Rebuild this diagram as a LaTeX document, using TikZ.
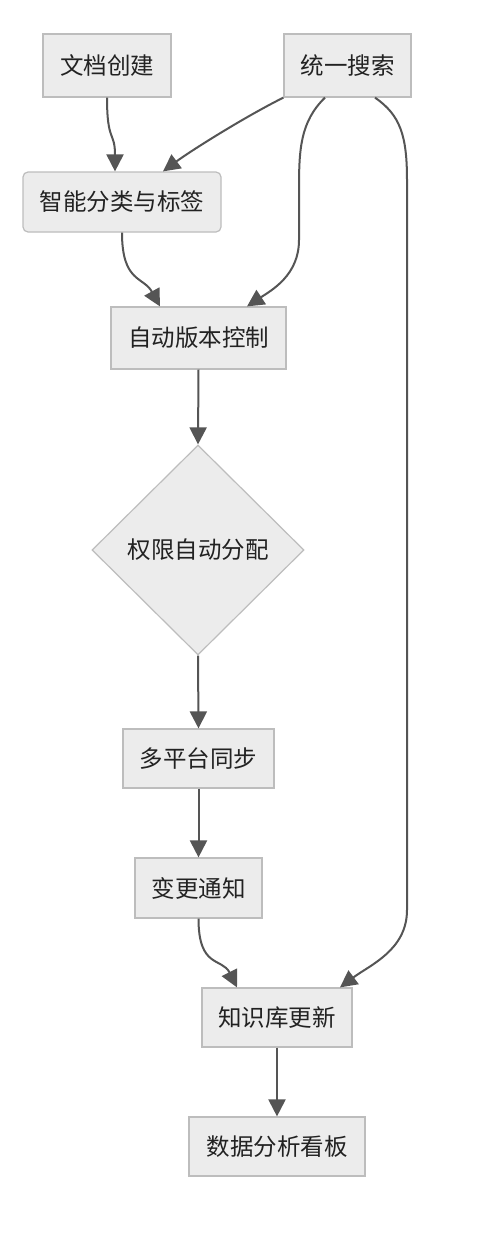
\documentclass[tikz,border=0pt]{standalone}
\usepackage{fontspec}
\setmainfont{Noto Sans CJK SC}
\usetikzlibrary{shapes.geometric,arrows.meta,calc}
\definecolor{boxfill}{HTML}{ECECEC}
\definecolor{boxline}{HTML}{BDBDBD}
\definecolor{linec}{HTML}{555555}
\definecolor{textc}{HTML}{222222}
\begin{document}
\begin{tikzpicture}[x=1pt,y=1pt,
  box/.style={draw=boxline, fill=boxfill, line width=1.2pt, inner sep=0pt,
    font=\fontsize{23.5}{28}\selectfont, text=textc},
  conn/.style={draw=linec, line width=2pt, -{Triangle[length=17pt,width=17pt]}}]
\fill[white] (0,0) rectangle (478,-1250);
\useasboundingbox (0,0) rectangle (478,-1250);

\node[box, minimum width=128pt, minimum height=63pt] (dc) at (107,-65.5) {文档创建};
\node[box, minimum width=127pt, minimum height=63pt] (ss) at (347.5,-65.5) {统一搜索};
\node[box, rounded corners=5pt, minimum width=198pt, minimum height=60pt] (zn) at (122,-202) {智能分类与标签};
\node[box, minimum width=175pt, minimum height=62pt] (bb) at (198.5,-338) {自动版本控制};
\node[box, diamond, minimum width=212pt, minimum height=210pt] (qx) at (198,-550) {权限自动分配};
\node[box, minimum width=151pt, minimum height=59pt] (tb) at (198.5,-758.5) {多平台同步};
\node[box, minimum width=127pt, minimum height=60pt] (tz) at (198.5,-888) {变更通知};
\node[box, minimum width=150pt, minimum height=59pt] (zs) at (277,-1017.5) {知识库更新};
\node[box, minimum width=176pt, minimum height=59pt] (sj) at (277,-1146.5) {数据分析看板};

% edges
\draw[conn] (dc.south) .. controls ($(dc.south)+(0,-45)$) and ($(zn.north)+(-7,40)$) .. ($(zn.north)+(-7,0)$);
\draw[conn] (ss.south west) .. controls ($(ss.south west)+(-40,-20)$) and ($(zn.north)+(68,20)$) .. ($(zn.north)+(41,0)$);
\draw[conn] ($(ss.south)+(-22.5,0)$) .. controls (300,-122) and (299,-150) .. (299,-190)
   -- (299,-240) .. controls (299,-275) and (272,-290) .. ($(bb.north)+(48.5,0)$);
\draw[conn] ($(ss.south)+(27.5,0)$) .. controls (400,-115) and (407,-135) .. (407,-180)
   -- (407,-910) .. controls (407,-950) and (370,-965) .. ($(zs.north)+(63,0)$);
\draw[conn] (zn.south) .. controls ($(zn.south)+(0,-50)$) and ($(bb.north)+(-55,30)$) .. ($(bb.north)+(-38.5,0)$);
\draw[conn] (bb.south) -- (qx.north);
\draw[conn] (qx.south) -- (tb.north);
\draw[conn] (tb.south) -- (tz.north);
\draw[conn] (tz.south) .. controls ($(tz.south)+(0,-50)$) and ($(zs.north)+(-55,30)$) .. ($(zs.north)+(-40,0)$);
\draw[conn] (zs.south) -- (sj.north);
\end{tikzpicture}
\end{document}
